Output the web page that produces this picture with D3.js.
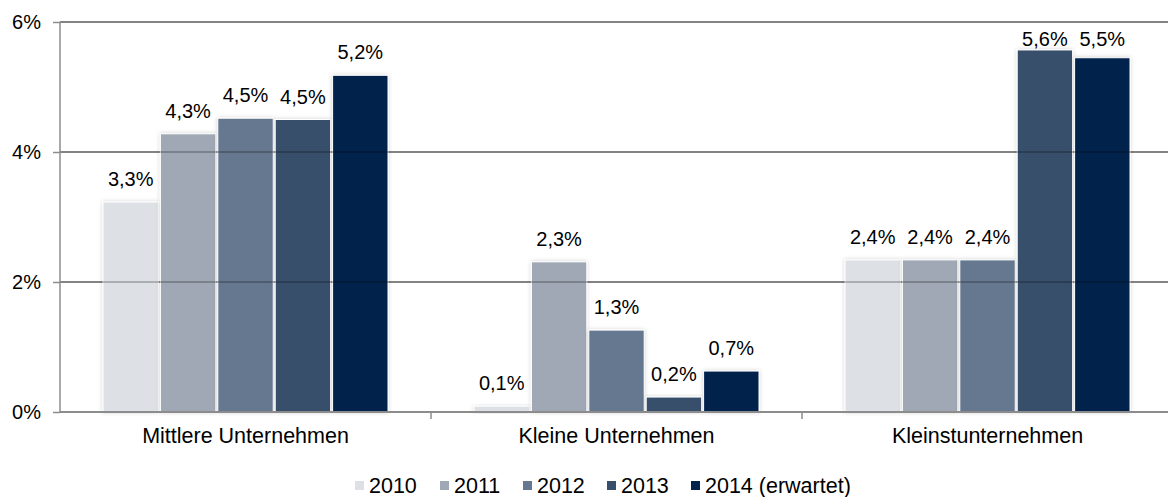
<!DOCTYPE html>
<html>
<head>
<meta charset="utf-8">
<script src="https://cdn.jsdelivr.net/npm/d3@7"></script>
<style>
  body { margin: 0; background: #fff; }
  text { font-family: "Liberation Sans", Arial, sans-serif; }
</style>
</head>
<body>
<svg id="chart" width="1168" height="497"></svg>
<script>
const categories = ["Mittlere Unternehmen", "Kleine Unternehmen", "Kleinstunternehmen"];
const years = ["2010", "2011", "2012", "2013", "2014 (erwartet)"];
const colors = ["#dde0e5", "#9fa8b4", "#667890", "#384f6c", "#00224b"];

// Werte je Jahr (in %), Reihenfolge wie categories
const v2010 = [3.23, 0.09, 2.34];
const v2011 = [4.28, 2.31, 2.34];
const v2012 = [4.52, 1.26, 2.34];
const v2013 = [4.50, 0.23, 5.57];
const v2014 = [5.18, 0.63, 5.45];
const values = [v2010, v2011, v2012, v2013, v2014];

// Beschriftungen wie im Original
const l2010 = ["3,3%", "0,1%", "2,4%"];
const l2011 = ["4,3%", "2,3%", "2,4%"];
const l2012 = ["4,5%", "1,3%", "2,4%"];
const l2013 = ["4,5%", "0,2%", "5,6%"];
const l2014 = ["5,2%", "0,7%", "5,5%"];
const labels = [l2010, l2011, l2012, l2013, l2014];

const yTicks = [0, 2, 4, 6];

const svg = d3.select("#chart");
const mLeft = 60, mRight = 1173, mTop = 22, mBottom = 412;
const fs = "20px";
const fsBig = "21.5px";

const x0 = d3.scaleBand().domain(categories).range([mLeft, mRight]);
const x1 = d3.scaleBand().domain(years).range([0, 285]).paddingInner(0.035);
const y = d3.scaleLinear().domain([0, 6]).range([mBottom, mTop]);

// Schatten für die Balken
const defs = svg.append("defs");
const f = defs.append("filter").attr("id", "shadow").attr("x", "-20%").attr("y", "-20%").attr("width", "140%").attr("height", "140%");
f.append("feDropShadow").attr("dx", 0).attr("dy", 0).attr("stdDeviation", 2).attr("flood-color", "#000").attr("flood-opacity", 0.18);

// Gitterlinien (hinten)
svg.append("g")
  .selectAll("line")
  .data(yTicks.slice(1))
  .enter()
  .append("line")
  .attr("x1", mLeft).attr("x2", 1168)
  .attr("y1", d => y(d)).attr("y2", d => y(d))
  .attr("stroke", "#8c8c8c").attr("stroke-width", 1.5);

// Balken
const data = [];
categories.forEach((c, i) => {
  years.forEach((yr, j) => {
    data.push({ cat: c, year: yr, value: values[j][i], label: labels[j][i], color: colors[j] });
  });
});

const barX = d => x0(d.cat) + (x0.bandwidth() - 285) / 2 + x1(d.year);

const groups = svg.append("g");
groups.selectAll(".bar")
  .data(data)
  .enter()
  .append("rect")
  .attr("class", "bar")
  .attr("x", barX)
  .attr("y", d => y(d.value))
  .attr("width", x1.bandwidth())
  .attr("height", d => mBottom - y(d.value))
  .attr("fill", d => d.color)
  .attr("stroke", "#fff")
  .attr("stroke-width", 1)
  .attr("filter", "url(#shadow)");

// Gitterlinien durchscheinend über den Balken
svg.append("g")
  .selectAll("line")
  .data(yTicks.slice(1))
  .enter()
  .append("line")
  .attr("x1", mLeft).attr("x2", 1168)
  .attr("y1", d => y(d)).attr("y2", d => y(d))
  .attr("stroke", "#000").attr("stroke-opacity", 0.3).attr("stroke-width", 1.5);

// Datenbeschriftungen (oben nicht über den Rand hinaus)
groups.selectAll(".lbl")
  .data(data)
  .enter()
  .append("text")
  .attr("class", "lbl")
  .attr("x", d => barX(d) + x1.bandwidth() / 2)
  .attr("y", d => Math.max(y(d.value) - 16, 46))
  .attr("text-anchor", "middle")
  .attr("font-size", fs)
  .attr("fill", "#000")
  .text(d => d.label);

// y-Achse
const yAxis = svg.append("g")
  .attr("transform", "translate(" + mLeft + ",0)")
  .call(d3.axisLeft(y).tickValues(yTicks).tickFormat(d => d + "%").tickSize(7).tickPadding(12));
yAxis.select(".domain").attr("stroke", "#8c8c8c").attr("stroke-width", 1.5).attr("d", "M0," + mTop + "V" + mBottom);
yAxis.selectAll(".tick line").attr("stroke", "#8c8c8c").attr("stroke-width", 1.5);
yAxis.selectAll(".tick text").attr("font-size", fs).attr("fill", "#000").attr("font-family", "Liberation Sans, Arial, sans-serif");

// x-Achse
const xAxis = svg.append("g")
  .attr("transform", "translate(0," + mBottom + ")")
  .call(d3.axisBottom(x0).tickSize(0).tickPadding(16));
xAxis.select(".domain").attr("stroke", "#8c8c8c").attr("stroke-width", 2).attr("d", "M" + mLeft + ",0H1168");
xAxis.selectAll(".tick text").attr("font-size", fsBig).attr("fill", "#000").attr("font-family", "Liberation Sans, Arial, sans-serif");

// Trennstriche zwischen den Kategorien
svg.append("g")
  .selectAll("line")
  .data(categories.slice(1))
  .enter()
  .append("line")
  .attr("x1", d => x0(d)).attr("x2", d => x0(d))
  .attr("y1", mBottom).attr("y2", mBottom + 7)
  .attr("stroke", "#8c8c8c").attr("stroke-width", 1.5);

// Legende
const legendX = [355, 440, 523, 607, 691];
const legend = svg.append("g").attr("transform", "translate(0,486)");
const item = legend.selectAll("g")
  .data(years)
  .enter()
  .append("g")
  .attr("transform", (d, i) => "translate(" + legendX[i] + ",0)");
item.append("rect")
  .attr("x", 0).attr("y", -5)
  .attr("width", 9).attr("height", 9)
  .attr("fill", (d, i) => colors[i]);
item.append("text")
  .attr("x", 14).attr("y", 7)
  .attr("font-size", fsBig)
  .attr("fill", "#000")
  .text(d => d);
</script>
</body>
</html>
